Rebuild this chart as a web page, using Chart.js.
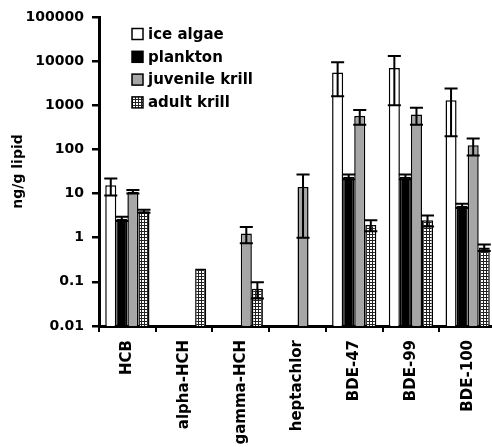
<!DOCTYPE html>
<html>
<head>
<meta charset="utf-8">
<script src="https://cdn.jsdelivr.net/npm/chart.js@4.4.0/dist/chart.umd.min.js"></script>
<style>
  html, body { margin: 0; padding: 0; background: #fff; overflow: hidden; }
</style>
</head>
<body>
<canvas id="chart" width="496" height="447"></canvas>
<script>
// data (ng/g lipid, mean and error)
const categories = ['HCB', 'alpha-HCH', 'gamma-HCH', 'heptachlor', 'BDE-47', 'BDE-99', 'BDE-100'];
const seriesNames = ['ice algae', 'plankton', 'juvenile krill', 'adult krill'];

const iceAlgae      = [15.5, null, null, null, 5500, 7000, 1300];
const iceAlgaeErr   = [6.5, null, null, null, 3900, 6000, 1100];
const plankton      = [2.7, null, null, null, 24, 24, 5.3];
const planktonErr   = [0.3, null, null, null, 3, 3, 0.6];
const juvenileKrill = [11, null, 1.25, 14, 570, 620, 125];
const juvenileErr   = [1, null, 0.5, 13, 210, 260, 52];
const adultKrill    = [4, 0.2, 0.07, null, 1.95, 2.5, 0.6];
const adultErr      = [0.3, null, 0.028, null, 0.55, 0.7, 0.1];

const yTickValues = [0.01, 0.1, 1, 10, 100, 1000, 10000, 100000];
const yTickLabels = ['0.01', '0.1', '1', '10', '100', '1000', '10000', '100000'];

const FONT = "'DejaVu Sans', sans-serif";

// grid hatch used for adult krill
const makeHatch = () => {
    const c = document.createElement('canvas');
    c.width = 3; c.height = 3;
    const g = c.getContext('2d');
    g.fillStyle = '#fff';
    g.fillRect(0, 0, 3, 3);
    g.fillStyle = '#222';
    g.fillRect(0, 0, 3, 1);
    g.fillRect(0, 0, 1, 3);
    return g.createPattern(c, 'repeat');
};
const hatch = makeHatch();

const fills = ['#ffffff', '#000000', '#a6a6a6', hatch];
const values = [iceAlgae, plankton, juvenileKrill, adultKrill];
const errors = [iceAlgaeErr, planktonErr, juvenileErr, adultErr];

// error bars drawn with the y scale
const errorBars = {
    id: 'errorBars',
    afterDatasetsDraw(chart) {
        const ctx = chart.ctx;
        const y = chart.scales.y;
        ctx.save();
        ctx.strokeStyle = '#000';
        ctx.lineWidth = 2;
        chart.data.datasets.forEach((ds, i) => {
            const meta = chart.getDatasetMeta(i);
            meta.data.forEach((bar, j) => {
                const v = ds.data[j];
                const e = ds.errors[j];
                if (v == null || e == null) return;
                const hi = y.getPixelForValue(v + e);
                const lo = y.getPixelForValue(Math.max(v - e, y.min));
                const half = bar.width / 2 + 1;
                ctx.beginPath();
                ctx.moveTo(bar.x, hi); ctx.lineTo(bar.x, lo);
                ctx.moveTo(bar.x - half, hi); ctx.lineTo(bar.x + half, hi);
                ctx.moveTo(bar.x - half, lo); ctx.lineTo(bar.x + half, lo);
                ctx.stroke();
            });
        });
        ctx.restore();
    }
};

// legend inside the plot, top left, one item per row
const boxLegend = {
    id: 'boxLegend',
    afterDraw(chart) {
        const ctx = chart.ctx;
        const a = chart.chartArea;
        ctx.save();
        ctx.font = "bold 15px " + FONT;
        ctx.textBaseline = 'middle';
        chart.data.datasets.forEach((ds, i) => {
            const cy = a.top + 17 + i * 22.8;
            const bx = a.left + 33;
            ctx.fillStyle = ds.backgroundColor;
            ctx.fillRect(bx, cy - 5.5, 11, 11);
            ctx.strokeStyle = '#000';
            ctx.lineWidth = 1.5;
            ctx.strokeRect(bx, cy - 5.5, 11, 11);
            ctx.fillStyle = '#000';
            ctx.fillText(ds.label, bx + 16, cy + 1);
        });
        ctx.restore();
    }
};

new Chart(document.getElementById('chart'), {
    type: 'bar',
    data: {
        labels: categories,
        datasets: seriesNames.map((name, i) => ({
            label: name,
            data: values[i],
            errors: errors[i],
            backgroundColor: fills[i],
            borderColor: '#000',
            borderWidth: 1.5,
            categoryPercentage: 0.78,
            barPercentage: 1.0
        }))
    },
    options: {
        responsive: false,
        animation: false,
        devicePixelRatio: 1,
        layout: { padding: { top: 17, right: 0, left: 0, bottom: 0 } },
        plugins: {
            legend: { display: false },
            tooltip: { enabled: false }
        },
        scales: {
            x: {
                afterFit: (s) => { s.height = 121; },
                grid: {
                    display: true,
                    drawOnChartArea: false,
                    offset: true,
                    tickLength: 6,
                    color: '#000',
                    lineWidth: 2
                },
                border: { display: true, color: '#000', width: 3 },
                ticks: {
                    autoSkip: false,
                    maxRotation: 90,
                    minRotation: 90,
                    padding: 8,
                    color: '#000',
                    font: { family: FONT, size: 15, weight: 'bold' }
                }
            },
            y: {
                type: 'logarithmic',
                min: 0.01,
                max: 100000,
                afterFit: (s) => { s.width = 99; },
                afterBuildTicks: (s) => { s.ticks = yTickValues.map(v => ({ value: v })); },
                grid: {
                    drawOnChartArea: false,
                    tickLength: 7,
                    color: '#000',
                    lineWidth: 2.5
                },
                border: { display: true, color: '#000', width: 3 },
                ticks: {
                    padding: 8,
                    color: '#000',
                    font: { family: FONT, size: 14, weight: 'bold' },
                    callback: (v) => {
                        const k = yTickValues.findIndex(t => Math.abs(t - v) < t * 1e-6);
                        return k >= 0 ? yTickLabels[k] : '';
                    }
                },
                title: {
                    display: true,
                    text: 'ng/g lipid',
                    color: '#000',
                    padding: { top: 10, bottom: 4 },
                    font: { family: FONT, size: 14, weight: 'bold' }
                }
            }
        }
    },
    plugins: [errorBars, boxLegend]
});
</script>
</body>
</html>
